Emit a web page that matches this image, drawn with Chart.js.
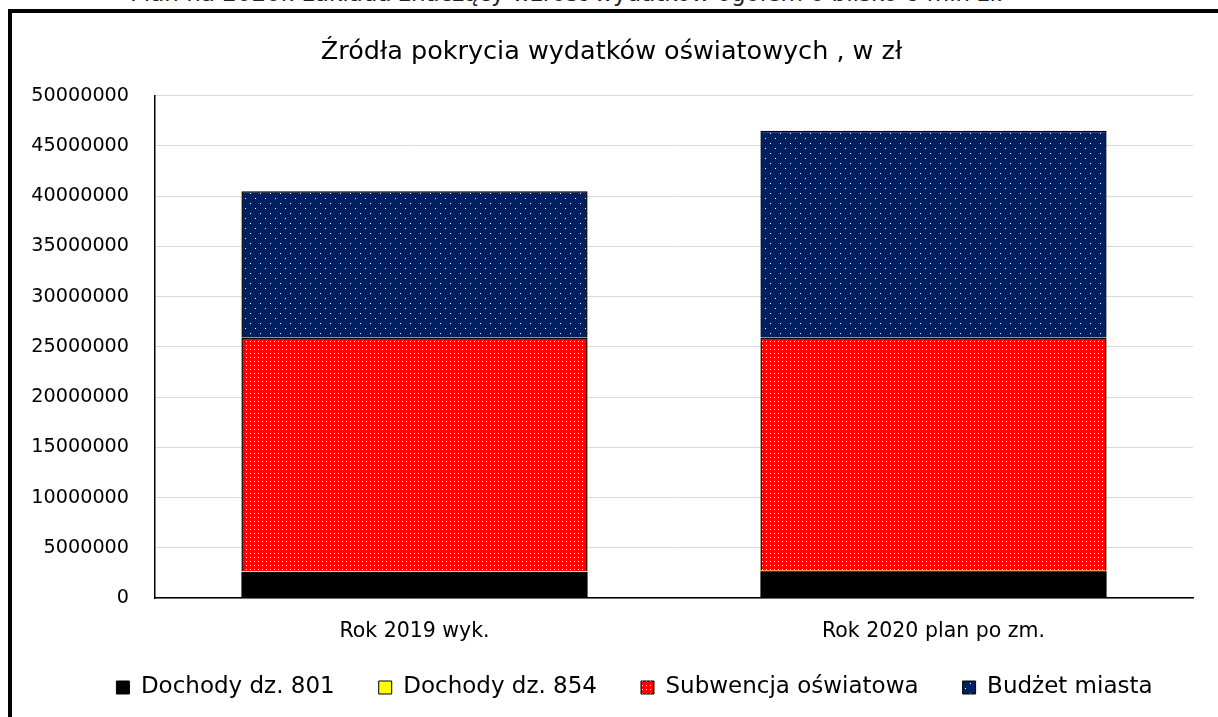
<!DOCTYPE html>
<html>
<head>
<meta charset="utf-8">
<script src="https://cdn.jsdelivr.net/npm/chart.js@4"></script>
<style>
    body { margin: 0; background: #fff; overflow: hidden; width: 1218px; height: 717px; position: relative; }
    #intro { position: absolute; left: 130px; top: -18px; line-height: 23px; font-family: 'DejaVu Sans', sans-serif; font-size: 23px; color: #222; white-space: nowrap; }
    #frame { position: absolute; left: 8px; top: 9px; width: 1300px; height: 800px; border-left: 4px solid #000; border-top: 4px solid #000; }
    #wrap { position: absolute; left: 30px; top: 13px; width: 1180px; height: 704px; }
</style>
</head>
<body>
<div id="intro">Plan na 2020r. zakłada znaczący wzrost wydatków ogółem o blisko 6 mln zł.</div>
<div id="frame"></div>
<div id="wrap"><canvas id="chart"></canvas></div>
<script>
const categories = ['Rok 2019 wyk.', 'Rok 2020 plan po zm.'];
const seriesNames = ['Dochody dz. 801', 'Dochody dz. 854', 'Subwencja oświatowa', 'Budżet miasta'];
const dochody801 = [2590000, 2660000];
const dochody854 = [40000, 40000];
const subwencja = [23300000, 23230000];
const budzet = [14540000, 20570000];
const yTicks = [0, 5000000, 10000000, 15000000, 20000000, 25000000, 30000000, 35000000, 40000000, 45000000, 50000000];

// kropkowane wypełnienie jak w Excelu
function dotPattern(bg, step, offset) {
    const c = document.createElement('canvas');
    c.width = step * 2;
    c.height = step * 2;
    const g = c.getContext('2d');
    g.fillStyle = bg;
    g.fillRect(0, 0, c.width, c.height);
    g.fillStyle = '#ffffff';
    g.fillRect(0, 0, 1, 1);
    if (offset) {
        g.fillRect(step, step, 1, 1);
    } else {
        g.fillRect(step, 0, 1, 1);
        g.fillRect(0, step, 1, 1);
        g.fillRect(step, step, 1, 1);
    }
    return g.createPattern(c, 'repeat');
}

const redFill = dotPattern('#ff0000', 4, false);
const blueFill = dotPattern('#002060', 5, true);

// legenda bliżej osi i trochę w prawo, jak w oryginale
const legendNudge = {
    id: 'legendNudge',
    afterLayout(chart) {
        const lg = chart.legend;
        lg.top -= 12;
        lg.bottom -= 12;
        lg.left += 23;
        lg.right += 23;
    }
};

const ctx = document.getElementById('chart').getContext('2d');
new Chart(ctx, {
    type: 'bar',
    data: {
        labels: categories,
        datasets: [
            { label: seriesNames[0], data: dochody801, backgroundColor: '#000000', borderColor: '#000000', borderWidth: 0 },
            { label: seriesNames[1], data: dochody854, backgroundColor: '#ffff00', borderColor: '#000000', borderWidth: 0 },
            { label: seriesNames[2], data: subwencja, backgroundColor: redFill, borderColor: '#000000', borderWidth: 1.5 },
            { label: seriesNames[3], data: budzet, backgroundColor: blueFill, borderColor: '#000000', borderWidth: 1.5 }
        ]
    },
    plugins: [legendNudge],
    options: {
        responsive: true,
        maintainAspectRatio: false,
        animation: false,
        datasets: { bar: { barPercentage: 0.667, categoryPercentage: 1 } },
        layout: { padding: { left: 0, right: 17, top: 6, bottom: -4 } },
        scales: {
            x: {
                stacked: true,
                afterFit: s => { s.height = 46; },
                grid: { display: false, drawTicks: false },
                border: { color: '#000', width: 1.5 },
                ticks: { color: '#000', padding: 21, font: { family: 'DejaVu Sans', size: 20.5 } }
            },
            y: {
                stacked: true,
                min: 0,
                max: 50000000,
                afterFit: s => { s.width = 125; },
                afterBuildTicks: s => { s.ticks = yTicks.map(v => ({ value: v })); },
                grid: { color: '#d9d9d9', drawTicks: false },
                border: { color: '#000', width: 1.5 },
                ticks: { color: '#000', padding: 26, font: { family: 'DejaVu Sans', size: 19.2 }, callback: v => String(v) }
            }
        },
        plugins: {
            title: {
                display: true,
                text: 'Źródła pokrycia wydatków oświatowych , w zł',
                color: '#000',
                font: { family: 'DejaVu Sans', size: 25.5, weight: 'normal' },
                padding: { top: 18, bottom: 28 }
            },
            legend: {
                position: 'bottom',
                labels: {
                    color: '#000',
                    font: { family: 'DejaVu Sans', size: 23 },
                    boxWidth: 13,
                    boxHeight: 13,
                    padding: 44,
                    generateLabels: chart => chart.data.datasets.map((d, i) => ({
                        text: d.label,
                        fillStyle: d.backgroundColor,
                        strokeStyle: '#000',
                        lineWidth: 1,
                        datasetIndex: i
                    }))
                }
            },
            tooltip: { enabled: false }
        }
    }
});
</script>
</body>
</html>
